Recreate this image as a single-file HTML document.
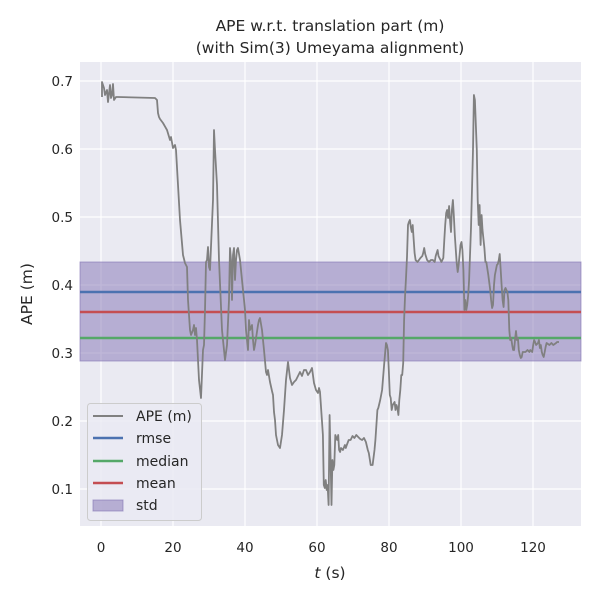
<!DOCTYPE html>
<html><head><meta charset="utf-8"><style>body{margin:0;background:#fff}svg{display:block}text{font-family:"DejaVu Sans","Liberation Sans",sans-serif;fill:#262626}</style></head><body>
<svg width="600" height="600" viewBox="0 0 600 600">
<rect x="80" y="62" width="501" height="464" fill="#eaeaf2"/>
<g stroke="#fff" stroke-width="1.2">
<line x1="101" y1="62" x2="101" y2="526"/><line x1="173" y1="62" x2="173" y2="526"/><line x1="245" y1="62" x2="245" y2="526"/><line x1="317" y1="62" x2="317" y2="526"/><line x1="389" y1="62" x2="389" y2="526"/><line x1="461" y1="62" x2="461" y2="526"/><line x1="533" y1="62" x2="533" y2="526"/>
<line x1="80" y1="81" x2="581" y2="81"/><line x1="80" y1="149" x2="581" y2="149"/><line x1="80" y1="217" x2="581" y2="217"/><line x1="80" y1="285" x2="581" y2="285"/><line x1="80" y1="353" x2="581" y2="353"/><line x1="80" y1="421" x2="581" y2="421"/><line x1="80" y1="489" x2="581" y2="489"/>
</g>
<rect x="80" y="262" width="501" height="99" fill="#8172b3" fill-opacity="0.5" stroke="#8172b3" stroke-opacity="0.6"/>
<line x1="80" y1="292" x2="581" y2="292" stroke="#4c72b0" stroke-width="2.5"/>
<line x1="80" y1="312" x2="581" y2="312" stroke="#c44e52" stroke-width="2.5"/>
<line x1="80" y1="338" x2="581" y2="338" stroke="#55a868" stroke-width="2.5"/>
<polyline fill="none" stroke="#808080" stroke-width="1.8" stroke-linejoin="round" points="102,97 102,82 104,88 105,95 107,90 108,102 110,85 111,98 112,95 113,84 114,100 116,97 118,97 155,98 157,100 158,113 159,117 160,119 163,123 167,130 170,140 171,137 173,148 175,145 176,150 178,185 180,220 183,255 185,263 187,267 188,300 190,330 191,335 193,330 194,325 195,335 196,328 197,340 199,380 201,398 203,350 204,345 205,310 206,262 207,260 208,247 209,267 210,270 213,200 214,130 215,150 217,185 219,260 222,330 225,360 227,345 229,300 230,248 231,260 232,300 233,255 234,248 235,280 236,260 237,250 238,248 240,260 243,290 245,310 246,330 248,350 249,320 250,330 252,325 253,340 254,350 255,345 258,325 259,320 260,318 262,330 264,350 266,372 267,375 268,370 270,382 272,391 273,395 274,412 275,420 276,435 278,445 280,448 282,435 284,410 286,380 288,362 290,378 292,385 294,382 296,380 300,372 302,376 304,370 306,370 308,375 310,372 312,368 314,383 316,390 318,393 319,388 320,392 321.9,420 322.9,435 323.8,485 324.8,488 325.7,480 326.7,490 327.6,485 328.6,505 329.6,415 330.5,455 331.5,505 332.4,460 333.4,470 334.3,465 335.3,435 337.2,440 338.2,435 339.1,450 340.1,452 341,448 342.9,450 344.9,445 345.8,448 346.8,445 348.7,440 350.6,440 352.5,436 354.4,438 356.3,435 358.2,437 360.2,439 362.1,440 364,438 365.9,442 367.8,450 368.8,453 370.7,465 372.6,465 374.5,450 375.4,440 377.4,410 378.3,408 380.2,400 382.1,390 384.1,365 386,343 386.9,345 387.9,350 388.8,370 389.8,395 390.7,398 391.7,410 392.7,405 394.6,402 395.5,410 396.5,405 397.4,408 398.4,415 399.3,400 400.3,390 401.3,375 402.2,375 403.2,363 404.1,320 405.1,295 406,278 407,257 408,225 408.9,222 409.9,220 410.8,227 411.8,232 412.7,225 413.7,240 414.6,253 415.6,260 417.5,262 420.4,258 422.3,256 423.2,253 424.2,248 425.2,254 427.1,260 429,262 430.9,260 432.8,260 434.7,262 435.7,256 437.6,250 438.5,256 440.5,260 441.4,262 443.3,258 444.3,240 445.2,225 446.2,213 447.1,210 448.1,218 449.1,206 450,220 451,232 451.9,210 452.9,200 453.8,215 454.8,235 455.8,250 456.7,263 457.7,272 458.6,265 459.6,255 460.5,245 461.5,242 462.4,250 463.4,270 464.4,310 465.3,300 466.3,310 467.2,305 468.2,295 469.1,280 471,228 473,150 473.9,95 474.9,100 476.8,150 477.7,200 478.7,225 479.6,205 480.6,245 481.6,215 482.5,230 484.4,248 485.4,262 486.3,262 488.3,275 489.2,282 490.2,290 491.1,300 492.1,308 493,305 494,285 494.9,275 496.9,265 497.8,264 498.8,260 499.7,254 500.7,270 501.6,285 502.6,300 503.6,307 504.5,290 505.5,288 506.4,290 507.4,292 508.3,300 509.3,330 510.2,340 511.2,338 512.2,345 513.1,350 514.1,350 515,340 516,331 516.9,340 517.9,338 518.8,350 519.8,355 520.8,358 521.7,357 522.7,352 525.5,352 527.5,350 529.4,352 530.3,350 532.2,352 533.2,345 534.1,340 535.1,342 536.1,345 538,343 538.9,340 539.9,348 540.8,345 541.8,352 542.7,355 543.7,357 544.7,352 545.6,347 546.6,343 549.4,345 551.4,343 553.3,345 556.1,343 557.1,342 559,342"/>
<rect x="87.5" y="403.5" width="114" height="117" rx="3" fill="#eaeaf2" fill-opacity="0.8" stroke="#cccccc"/>
<line x1="93" y1="416" x2="123" y2="416" stroke="#808080" stroke-width="2"/>
<line x1="93" y1="438" x2="123" y2="438" stroke="#4c72b0" stroke-width="2.5"/>
<line x1="93" y1="461" x2="123" y2="461" stroke="#55a868" stroke-width="2.5"/>
<line x1="93" y1="483" x2="123" y2="483" stroke="#c44e52" stroke-width="2.5"/>
<rect x="93" y="500" width="30" height="11" fill="#8172b3" fill-opacity="0.5" stroke="#8172b3" stroke-opacity="0.6"/>
<g font-size="14"><text x="136" y="421">APE (m)</text><text x="136" y="443">rmse</text><text x="136" y="466">median</text><text x="136" y="488">mean</text><text x="136" y="510">std</text></g>
<g font-size="13.5" text-anchor="middle"><text x="101" y="552">0</text><text x="173" y="552">20</text><text x="245" y="552">40</text><text x="317" y="552">60</text><text x="389" y="552">80</text><text x="461" y="552">100</text><text x="533" y="552">120</text></g>
<g font-size="13.5" text-anchor="end"><text x="73" y="86">0.7</text><text x="73" y="154">0.6</text><text x="73" y="222">0.5</text><text x="73" y="290">0.4</text><text x="73" y="358">0.3</text><text x="73" y="426">0.2</text><text x="73" y="494">0.1</text></g>
<text x="330" y="578" font-size="15.5" text-anchor="middle"><tspan font-style="italic">t</tspan> (s)</text>
<text transform="translate(32,294) rotate(-90)" font-size="15.5" text-anchor="middle">APE (m)</text>
<text x="330" y="31" font-size="15.5" text-anchor="middle">APE w.r.t. translation part (m)</text>
<text x="330" y="53" font-size="15.5" text-anchor="middle">(with Sim(3) Umeyama alignment)</text>
</svg>
</body></html>
